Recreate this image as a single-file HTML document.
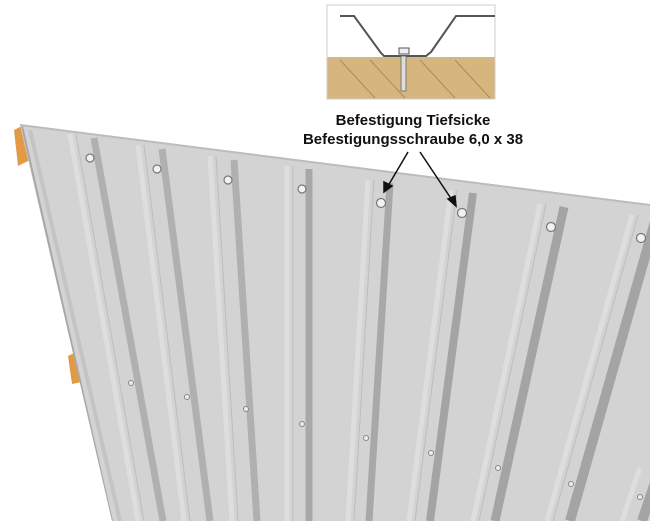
<!DOCTYPE html>
<html><head><style>
body{margin:0;background:#fff;width:650px;height:521px;overflow:hidden;font-family:"Liberation Sans",sans-serif}
</style></head><body>
<svg width="650" height="521" viewBox="0 0 650 521" xmlns="http://www.w3.org/2000/svg">
<defs>
<clipPath id="c"><polygon points="20,125 650,205 650,521 112,521"/></clipPath>
</defs>
<polygon points="14,130 24,125 30,160 18,166" fill="#e39a45"/>
<polygon points="68,356 76,352 82,382 72,384" fill="#e39a45"/>
<polygon points="20,125 650,205 650,521 112,521" fill="#d3d3d3"/>
<g clip-path="url(#c)">
<line x1="22" y1="126" x2="112" y2="521" stroke="#a8a8a8" stroke-width="2"/>
<line x1="30" y1="130" x2="120" y2="521" stroke="#c4c4c4" stroke-width="4"/>
<g id="r1">
<line x1="70" y1="134" x2="138" y2="521" stroke="#dedede" stroke-width="5"/>
<line x1="76" y1="134" x2="144" y2="521" stroke="#bdbdbd" stroke-width="1"/>
<line x1="94" y1="138" x2="163" y2="521" stroke="#b0b0b0" stroke-width="7"/>
</g>
<line x1="138" y1="145" x2="184" y2="521" stroke="#dedede" stroke-width="5"/>
<line x1="144" y1="145" x2="190" y2="521" stroke="#bdbdbd" stroke-width="1"/>
<line x1="162" y1="149" x2="210" y2="521" stroke="#b0b0b0" stroke-width="7"/>
<line x1="210" y1="156" x2="232" y2="521" stroke="#dedede" stroke-width="5"/>
<line x1="216" y1="156" x2="238" y2="521" stroke="#bdbdbd" stroke-width="1"/>
<line x1="234" y1="160" x2="257" y2="521" stroke="#b0b0b0" stroke-width="7"/>
<line x1="287" y1="166" x2="287" y2="521" stroke="#dedede" stroke-width="5"/>
<line x1="293" y1="166" x2="293" y2="521" stroke="#bdbdbd" stroke-width="1"/>
<line x1="309" y1="169" x2="309" y2="521" stroke="#a8a8a8" stroke-width="7"/>
<line x1="368" y1="180" x2="348" y2="521" stroke="#dedede" stroke-width="5"/>
<line x1="374" y1="180" x2="354" y2="521" stroke="#bdbdbd" stroke-width="1"/>
<line x1="390" y1="183" x2="369" y2="521" stroke="#a8a8a8" stroke-width="7"/>
<line x1="451" y1="190" x2="409" y2="521" stroke="#dedede" stroke-width="5"/>
<line x1="457" y1="190" x2="415" y2="521" stroke="#bdbdbd" stroke-width="1"/>
<line x1="473" y1="193" x2="430" y2="521" stroke="#a4a4a4" stroke-width="8"/>
<line x1="540" y1="204" x2="473" y2="521" stroke="#dedede" stroke-width="5"/>
<line x1="546" y1="204" x2="479" y2="521" stroke="#bdbdbd" stroke-width="1"/>
<line x1="564" y1="207" x2="495" y2="521" stroke="#a4a4a4" stroke-width="9"/>
<line x1="632" y1="215" x2="547" y2="521" stroke="#dedede" stroke-width="5"/>
<line x1="638" y1="215" x2="553" y2="521" stroke="#bdbdbd" stroke-width="1"/>
<line x1="656" y1="218" x2="570" y2="521" stroke="#a4a4a4" stroke-width="10"/>
<line x1="640" y1="468" x2="622" y2="521" stroke="#dedede" stroke-width="5"/>
<line x1="660" y1="468" x2="642" y2="521" stroke="#a4a4a4" stroke-width="10"/>
</g>
<line x1="20" y1="125" x2="650" y2="205" stroke="#bcbcbc" stroke-width="2"/>
<g fill="#f2f2f2" stroke="#777" stroke-width="1.2">
<circle cx="90" cy="158" r="4"/><circle cx="157" cy="169" r="4"/><circle cx="228" cy="180" r="4"/><circle cx="302" cy="189" r="4"/>
<circle cx="381" cy="203" r="4.5"/><circle cx="462" cy="213" r="4.5"/><circle cx="551" cy="227" r="4.5"/><circle cx="641" cy="238" r="4.5"/>
</g>
<g fill="#ececec" stroke="#888" stroke-width="1">
<circle cx="131" cy="383" r="2.5"/><circle cx="187" cy="397" r="2.5"/><circle cx="246" cy="409" r="2.5"/><circle cx="302" cy="424" r="2.5"/>
<circle cx="366" cy="438" r="2.5"/><circle cx="431" cy="453" r="2.5"/><circle cx="498" cy="468" r="2.5"/><circle cx="571" cy="484" r="2.5"/><circle cx="640" cy="497" r="2.5"/>
</g>
<rect x="327" y="5" width="168" height="94" fill="#fff" stroke="#ccc"/>
<rect x="327.5" y="57" width="167" height="41.5" fill="#d6b67e"/>
<g stroke="#a88c5a" stroke-width="1">
<line x1="340" y1="60" x2="375" y2="98"/><line x1="370" y1="60" x2="405" y2="98"/><line x1="420" y1="60" x2="455" y2="98"/><line x1="455" y1="60" x2="490" y2="98"/>
</g>
<polyline points="340,16 354,16 381,53 384,56 426,56 431,52 456,16 495,16" fill="none" stroke="#555" stroke-width="2"/>
<rect x="399" y="48" width="10" height="6" fill="#eee" stroke="#555"/>
<rect x="401" y="56" width="5" height="35" fill="#ddd" stroke="#666" stroke-width="0.8"/>
<text x="413" y="125" font-size="15" font-weight="bold" text-anchor="middle" fill="#111">Befestigung Tiefsicke</text>
<text x="413" y="144" font-size="15" font-weight="bold" text-anchor="middle" fill="#111">Befestigungsschraube 6,0 x 38</text>
<g stroke="#111" stroke-width="1.5" fill="#111">
<line x1="408" y1="152" x2="388" y2="186"/><polygon points="384,192 384,182 392,186"/>
<line x1="420" y1="152" x2="452" y2="200"/><polygon points="456,206 448,199 455,196"/>
</g>
</svg>
</body></html>
